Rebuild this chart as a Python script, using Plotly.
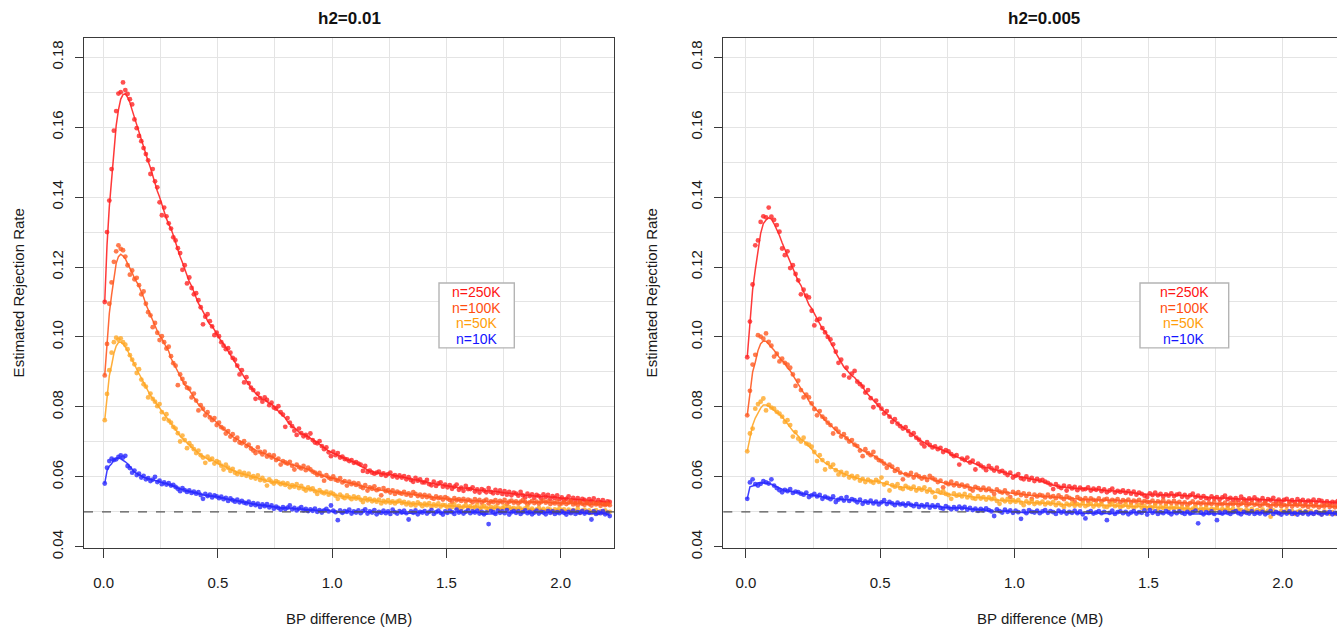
import numpy as np
import plotly.graph_objects as go

# Distance bins (MB): bin centres every 10 kb
BIN_START = 0.005
BIN_WIDTH = 0.01

SERIES = ["n=250K", "n=100K", "n=50K", "n=10K"]
COLORS = {"n=250K": "#FF2424", "n=100K": "#FF5A22", "n=50K": "#FFA726", "n=10K": "#2A2AFF"}
TEXT_COLORS = {"n=250K": "#FF1414", "n=100K": "#FF4E12", "n=50K": "#FF9E0A", "n=10K": "#1414FF"}

# ---- h2 = 0.01 -------------------------------------------------------------
h01_250k = [
    0.110, 0.130, 0.139, 0.148, 0.159, 0.1646, 0.1696, 0.170, 0.1728, 0.1706,
    0.1695, 0.168, 0.1665, 0.1622, 0.1597, 0.1575, 0.156, 0.154, 0.1523, 0.1505,
    0.1466, 0.148, 0.1445, 0.1428, 0.1385, 0.1348, 0.137, 0.1345, 0.1325, 0.131,
    0.1285, 0.1276, 0.1254, 0.124, 0.1192, 0.1205, 0.1153, 0.117, 0.114, 0.1122,
    0.1125, 0.1105, 0.1085, 0.1036, 0.1058, 0.1065, 0.1045, 0.103, 0.1005, 0.1012,
    0.1002, 0.0985, 0.0975, 0.0965, 0.0968, 0.0955, 0.094, 0.0935, 0.0918, 0.0893,
    0.0905, 0.087, 0.0885, 0.0868, 0.0855, 0.0848, 0.0823, 0.0838, 0.0825, 0.0815,
    0.0827, 0.082, 0.0805, 0.0812, 0.0798, 0.0795, 0.0802, 0.0785, 0.0778, 0.0743,
    0.0768, 0.0755, 0.0745, 0.0732, 0.072, 0.0738, 0.0725, 0.0716, 0.072, 0.0712,
    0.0724, 0.0705, 0.0698, 0.0696, 0.0702, 0.0688, 0.0679, 0.0684, 0.067, 0.0659,
    0.0672, 0.0662, 0.0668, 0.0655, 0.0658, 0.0651, 0.065, 0.0645, 0.0648, 0.064,
    0.0642, 0.0638, 0.0635, 0.0617, 0.0631, 0.0614, 0.0618, 0.0612, 0.0609, 0.0612,
    0.0615, 0.0606, 0.061, 0.0603, 0.0608, 0.0612, 0.0601, 0.0605, 0.0598, 0.0604,
    0.0598, 0.0602, 0.0593, 0.0599, 0.0591, 0.0586, 0.0597, 0.0589, 0.0593, 0.0584,
    0.0584, 0.0591, 0.0579, 0.0576, 0.0586, 0.0574, 0.0581, 0.0584, 0.0572, 0.0578,
    0.057, 0.0576, 0.0566, 0.0572, 0.0578, 0.0563, 0.0569, 0.056, 0.0574, 0.0565,
    0.0565, 0.057, 0.0558, 0.0564, 0.0555, 0.0565, 0.0561, 0.0556, 0.0568, 0.0557,
    0.0553, 0.0563, 0.0554, 0.0561, 0.0551, 0.0559, 0.0549, 0.0557, 0.0547, 0.0555,
    0.0552, 0.0546, 0.0557, 0.0547, 0.0541, 0.0552, 0.0545, 0.055, 0.054, 0.0548,
    0.0545, 0.0539, 0.055, 0.0542, 0.0548, 0.0537, 0.0545, 0.0539, 0.0547, 0.0536,
    0.0541, 0.0534, 0.0537, 0.0544, 0.0532, 0.054, 0.0531, 0.0539, 0.0529, 0.0537,
    0.0534, 0.0527, 0.0536, 0.053, 0.0538, 0.0525, 0.0533, 0.0527, 0.0533, 0.0523, 0.053, 0.0528,
]
h01_100k = [
    0.089, 0.098, 0.1095, 0.1156, 0.1215, 0.1245, 0.1262, 0.1252, 0.1248, 0.123,
    0.1205, 0.1178, 0.119, 0.1165, 0.1169, 0.1148, 0.1122, 0.113, 0.1095, 0.1071,
    0.1062, 0.1028, 0.104, 0.1012, 0.0991, 0.1002, 0.0985, 0.0967, 0.0972, 0.0945,
    0.0925, 0.0918, 0.0862, 0.0893, 0.088, 0.0868, 0.0855, 0.0852, 0.0827, 0.0838,
    0.0818, 0.079, 0.0805, 0.0795, 0.0776, 0.0785, 0.077, 0.0762, 0.0768, 0.0748,
    0.0755, 0.0742, 0.0738, 0.0724, 0.0731, 0.0715, 0.0722, 0.0705, 0.0712, 0.0698,
    0.0696, 0.0702, 0.0688, 0.0692, 0.0681, 0.0675, 0.0668, 0.0684, 0.0671, 0.0664,
    0.0672, 0.0658, 0.0663, 0.0655, 0.0661, 0.0648, 0.0652, 0.0635, 0.0645, 0.0641,
    0.0638, 0.0643, 0.0632, 0.0621, 0.0635, 0.0628, 0.0624, 0.0631, 0.0619, 0.0626,
    0.0621, 0.0615, 0.0612, 0.0606, 0.0611, 0.0603, 0.0589, 0.0605, 0.0598, 0.0594,
    0.0601, 0.0592, 0.0589, 0.0596, 0.0584, 0.0588, 0.0575, 0.0586, 0.0579, 0.0583,
    0.0577, 0.0581, 0.0572, 0.0568, 0.0576, 0.0561, 0.057, 0.0566, 0.0573, 0.0562,
    0.0565, 0.0547, 0.0568, 0.0559, 0.0562, 0.0555, 0.0561, 0.0551, 0.0558, 0.0554,
    0.0552, 0.0557, 0.0549, 0.0553, 0.0546, 0.0556, 0.0551, 0.0545, 0.0549, 0.0543,
    0.0548, 0.0542, 0.0546, 0.054, 0.0537, 0.0544, 0.0539, 0.0541, 0.0535, 0.0542,
    0.0538, 0.0534, 0.0528, 0.0539, 0.0533, 0.0536, 0.0531, 0.0537, 0.053, 0.0535,
    0.0532, 0.0527, 0.0536, 0.0529, 0.0534, 0.0526, 0.0531, 0.0535, 0.0524, 0.053,
    0.0528, 0.0533, 0.0525, 0.0531, 0.0527, 0.0534, 0.0522, 0.0529, 0.0532, 0.0526,
    0.053, 0.0524, 0.0529, 0.0533, 0.0528, 0.0521, 0.0527, 0.0531, 0.0525, 0.0529,
    0.0523, 0.0528, 0.0532, 0.0526, 0.053, 0.0522, 0.0527, 0.0524, 0.0529, 0.0521,
    0.0524, 0.0528, 0.0522, 0.0526, 0.053, 0.0521, 0.0525, 0.0519, 0.0527, 0.0523,
    0.052, 0.0526, 0.0522, 0.0518, 0.0525, 0.0521, 0.0524, 0.0517, 0.0522, 0.0519, 0.0523, 0.0519,
]
h01_50k = [
    0.0762, 0.0837, 0.0905, 0.0955, 0.0985, 0.0998, 0.0992, 0.0996, 0.0985, 0.0978,
    0.0965, 0.0948, 0.0935, 0.0922, 0.0897, 0.0908, 0.0878, 0.0865, 0.0858, 0.0827,
    0.0838, 0.0823, 0.0815, 0.0802, 0.0808, 0.0785, 0.0766, 0.0779, 0.0761, 0.0755,
    0.0743, 0.0738, 0.0725, 0.0701, 0.0718, 0.0705, 0.0682, 0.0696, 0.0688, 0.0679,
    0.0668, 0.0675, 0.0662, 0.0655, 0.064, 0.0658, 0.0649, 0.0652, 0.0638, 0.0645,
    0.0641, 0.0632, 0.0621, 0.0635, 0.0626, 0.0617, 0.0623, 0.0612, 0.0608, 0.0615,
    0.0606, 0.0611, 0.0603, 0.0609, 0.0598, 0.0602, 0.0595, 0.0604, 0.0591, 0.0597,
    0.0589, 0.0575, 0.0593, 0.0586, 0.0581, 0.0588, 0.0584, 0.0579, 0.0583, 0.0577,
    0.0581, 0.057, 0.0576, 0.0572, 0.0579, 0.0568, 0.0574, 0.0566, 0.0561, 0.057,
    0.0564, 0.0567, 0.0559, 0.0551, 0.0562, 0.0556, 0.0553, 0.0558, 0.0549, 0.0555,
    0.0551, 0.0546, 0.0537, 0.0549, 0.0543, 0.0539, 0.0547, 0.0541, 0.0536, 0.0544,
    0.0538, 0.0542, 0.0535, 0.0528, 0.0539, 0.0533, 0.0537, 0.053, 0.0534, 0.0529,
    0.0535, 0.0524, 0.0531, 0.0527, 0.0533, 0.0526, 0.053, 0.0524, 0.0529, 0.0532,
    0.0525, 0.0528, 0.0521, 0.0526, 0.0519, 0.0524, 0.0518, 0.0527, 0.0522, 0.0516,
    0.0523, 0.0519, 0.0525, 0.0514, 0.0521, 0.0517, 0.0524, 0.0515, 0.052, 0.0518,
    0.0513, 0.0519, 0.0514, 0.0521, 0.0511, 0.0517, 0.0509, 0.0515, 0.0519, 0.0512,
    0.0516, 0.051, 0.0514, 0.0519, 0.0508, 0.0513, 0.0517, 0.0511, 0.0506, 0.0514,
    0.0509, 0.0515, 0.0512, 0.0505, 0.0511, 0.0516, 0.0507, 0.0513, 0.0508, 0.0511,
    0.0506, 0.0512, 0.0509, 0.0503, 0.051, 0.0514, 0.0505, 0.0509, 0.0501, 0.0507,
    0.0511, 0.0504, 0.0508, 0.0502, 0.0509, 0.0506, 0.0499, 0.0507, 0.0503, 0.051,
    0.0504, 0.0507, 0.05, 0.0506, 0.0498, 0.0505, 0.0502, 0.0508, 0.0497, 0.0503,
    0.0506, 0.05, 0.0504, 0.0497, 0.0502, 0.0505, 0.0496, 0.0501, 0.0498, 0.0504, 0.0499, 0.050,
]
h01_10k = [
    0.0581, 0.0626, 0.0645, 0.0652, 0.0648, 0.065, 0.0657, 0.0661, 0.0655, 0.066,
    0.0631, 0.0625, 0.0612, 0.0618, 0.0605, 0.0609, 0.0598, 0.0603, 0.0593, 0.0596,
    0.0588, 0.0592, 0.06, 0.0585, 0.0589, 0.0579, 0.0584, 0.0578, 0.0582, 0.0575,
    0.0577, 0.0571, 0.0566, 0.0559, 0.0568, 0.0562, 0.0557, 0.0561, 0.0554, 0.0558,
    0.0552, 0.0556, 0.0548, 0.0537, 0.0551, 0.0545, 0.0549, 0.0541, 0.0547, 0.0544,
    0.0539, 0.0543, 0.0536, 0.054, 0.0531, 0.0538, 0.0533, 0.0529, 0.0535, 0.0527,
    0.0531, 0.0526, 0.0524, 0.0529, 0.052, 0.0525, 0.0519, 0.0523, 0.0514, 0.0521,
    0.0516, 0.0522, 0.0513, 0.0518, 0.0509, 0.0515, 0.0511, 0.0506, 0.0513, 0.0508,
    0.0512, 0.0518, 0.0507, 0.0511, 0.0504, 0.0509, 0.0513, 0.0504, 0.0508, 0.0502,
    0.0507, 0.0503, 0.0509, 0.05, 0.0505, 0.0498, 0.0504, 0.0508, 0.0501, 0.0518,
    0.0503, 0.0499, 0.0476, 0.0504, 0.0497, 0.0502, 0.05, 0.0506, 0.0495, 0.0501,
    0.0498, 0.0504, 0.0496, 0.0502, 0.0507, 0.0495, 0.0501, 0.0498, 0.0505, 0.0493,
    0.05, 0.0497, 0.0503, 0.0496, 0.0501, 0.0494, 0.0506, 0.0499, 0.0495, 0.0502,
    0.0498, 0.0503, 0.0496, 0.0478, 0.0501, 0.0497, 0.0504, 0.0493, 0.05, 0.0498,
    0.0502, 0.0495, 0.05, 0.0505, 0.0494, 0.0499, 0.0503, 0.0497, 0.0492, 0.0501,
    0.0497, 0.0503, 0.0499, 0.0494, 0.0506, 0.0498, 0.0501, 0.0495, 0.05, 0.0504,
    0.0496, 0.0501, 0.0498, 0.0503, 0.0495, 0.05, 0.0493, 0.0498, 0.0465, 0.0502,
    0.0499, 0.0494, 0.0503, 0.0497, 0.0501, 0.0496, 0.0505, 0.0492, 0.0499, 0.0502,
    0.0497, 0.0501, 0.0494, 0.0499, 0.0504, 0.0496, 0.05, 0.0493, 0.0498, 0.0503,
    0.0495, 0.05, 0.0498, 0.0493, 0.0502, 0.0497, 0.0501, 0.0494, 0.0499, 0.0496,
    0.0501, 0.0497, 0.0492, 0.05, 0.0496, 0.0503, 0.0494, 0.0499, 0.0497, 0.0502,
    0.0495, 0.05, 0.0497, 0.0478, 0.0501, 0.0494, 0.0498, 0.0496, 0.0502, 0.0493, 0.0497, 0.0488,
]

# ---- h2 = 0.005 ------------------------------------------------------------
h005_250k = [
    0.0942, 0.1044, 0.1150, 0.1262, 0.1276, 0.1329, 0.1345, 0.1342, 0.1370, 0.1344,
    0.1335, 0.1320, 0.1301, 0.1253, 0.1234, 0.1245, 0.1197, 0.1205, 0.1180, 0.1162,
    0.1122, 0.1135, 0.1118, 0.1113, 0.1075, 0.1033, 0.1048, 0.1052, 0.1025, 0.1013,
    0.1000, 0.0993, 0.0979, 0.0958, 0.0926, 0.0935, 0.0890, 0.0912, 0.0884, 0.0895,
    0.0903, 0.0872, 0.0865, 0.0858, 0.0841, 0.0848, 0.0825, 0.0799, 0.0818, 0.0805,
    0.0795, 0.0781, 0.0788, 0.0772, 0.0757, 0.0765, 0.0752, 0.0745, 0.0738, 0.0742,
    0.0731, 0.072, 0.0725, 0.0712, 0.0706, 0.0695, 0.0687, 0.0699, 0.0691, 0.0684,
    0.0687, 0.0679, 0.0683, 0.0671, 0.0676, 0.0673, 0.0665, 0.0659, 0.0662, 0.0635,
    0.0652, 0.0648, 0.0655, 0.0641, 0.0646, 0.0621, 0.0638, 0.0632, 0.0627, 0.0619,
    0.0631, 0.0624, 0.0618, 0.0626, 0.0615, 0.0617, 0.0611, 0.0605, 0.0612, 0.0598,
    0.0603, 0.0608, 0.0596, 0.0593, 0.0601, 0.0592, 0.0597, 0.0588, 0.0594, 0.0589,
    0.0591, 0.0586, 0.0583, 0.0578, 0.0565, 0.0579, 0.0572, 0.0568, 0.0575, 0.0561,
    0.0573, 0.0567, 0.0571, 0.0562, 0.0569, 0.0564, 0.0565, 0.057, 0.0561, 0.0566,
    0.0563, 0.0568, 0.0559, 0.0564, 0.0556, 0.0561, 0.0566, 0.0555, 0.056, 0.0557,
    0.0561, 0.0554, 0.0559, 0.0552, 0.0558, 0.0549, 0.0555, 0.0551, 0.0546, 0.0542,
    0.0553, 0.0548, 0.0555, 0.0547, 0.0551, 0.0544, 0.055, 0.0546, 0.0553, 0.0545,
    0.0549, 0.0551, 0.0543, 0.0548, 0.0541, 0.0547, 0.0552, 0.0542, 0.0546, 0.054,
    0.0545, 0.0539, 0.0537, 0.0544, 0.0538, 0.0542, 0.0535, 0.0541, 0.0546, 0.0536,
    0.054, 0.0534, 0.0539, 0.0533, 0.0543, 0.0536, 0.0531, 0.0538, 0.0534, 0.0541,
    0.0535, 0.0532, 0.0539, 0.053, 0.0536, 0.0533, 0.054, 0.0529, 0.0535, 0.0528,
    0.0534, 0.0537, 0.0529, 0.0533, 0.0527, 0.0536, 0.053, 0.0534, 0.0526, 0.0532,
    0.0529, 0.0535, 0.0527, 0.0533, 0.0531, 0.0525, 0.053, 0.0524, 0.0528, 0.0526, 0.0531, 0.0525,
]
h005_100k = [
    0.0776, 0.0846, 0.0921, 0.0949, 0.1005, 0.1001, 0.0995, 0.101, 0.0986, 0.0975,
    0.0944, 0.0952, 0.093, 0.0938, 0.0926, 0.0921, 0.0912, 0.0893, 0.086, 0.0875,
    0.0848, 0.0827, 0.0835, 0.0827, 0.081, 0.0794, 0.0776, 0.0788, 0.0772, 0.0766,
    0.0755, 0.0748, 0.0724, 0.0738, 0.0729, 0.0715, 0.0722, 0.071, 0.0701, 0.0705,
    0.0692, 0.0688, 0.0675, 0.0659, 0.0679, 0.0668, 0.0662, 0.0671, 0.0655, 0.0648,
    0.0645, 0.0638, 0.0626, 0.0635, 0.0629, 0.0617, 0.0622, 0.0612, 0.0593, 0.0608,
    0.0604, 0.0611, 0.0598, 0.0606, 0.0601, 0.0595, 0.0599, 0.0591, 0.0603, 0.0596,
    0.0592, 0.0585, 0.0589, 0.057, 0.0583, 0.0579, 0.0586, 0.0576, 0.0581, 0.0574,
    0.0578, 0.0572, 0.0575, 0.0566, 0.0561, 0.0571, 0.0568, 0.0563, 0.0569, 0.0562,
    0.0566, 0.056, 0.0551, 0.0564, 0.0558, 0.0555, 0.0561, 0.0553, 0.0542, 0.0557,
    0.0552, 0.0556, 0.0548, 0.0553, 0.0545, 0.0551, 0.0537, 0.0549, 0.0544, 0.0548,
    0.0546, 0.0541, 0.0549, 0.0542, 0.0545, 0.0539, 0.0547, 0.0541, 0.0536, 0.0544,
    0.054, 0.0536, 0.0528, 0.0542, 0.0537, 0.0533, 0.0539, 0.0531, 0.0538, 0.0534,
    0.0532, 0.0538, 0.053, 0.0535, 0.0537, 0.0529, 0.0534, 0.0531, 0.0536, 0.0527,
    0.0533, 0.053, 0.0535, 0.0526, 0.0532, 0.0529, 0.0534, 0.0525, 0.0531, 0.0528,
    0.0527, 0.0532, 0.0524, 0.053, 0.0526, 0.0533, 0.0523, 0.0529, 0.0525, 0.0531,
    0.0524, 0.0528, 0.0522, 0.0527, 0.0519, 0.0525, 0.053, 0.0521, 0.0526, 0.0523,
    0.0527, 0.052, 0.0525, 0.0522, 0.0528, 0.0519, 0.0524, 0.0521, 0.0526, 0.0518,
    0.0524, 0.0521, 0.0526, 0.0519, 0.0523, 0.0527, 0.0518, 0.0522, 0.0525, 0.052,
    0.0523, 0.0517, 0.0521, 0.0525, 0.0519, 0.0514, 0.0522, 0.0518, 0.0524, 0.0516,
    0.052, 0.0517, 0.0523, 0.0515, 0.0521, 0.0518, 0.0522, 0.0516, 0.0519, 0.0514,
    0.0521, 0.0516, 0.0519, 0.0513, 0.0518, 0.0515, 0.052, 0.0514, 0.0517, 0.0513, 0.0516, 0.0514,
]
h005_50k = [
    0.0673, 0.0724, 0.0738, 0.0795, 0.0808, 0.0815, 0.0824, 0.079, 0.0806, 0.0798,
    0.0795, 0.0786, 0.0781, 0.0772, 0.0757, 0.0762, 0.0748, 0.0715, 0.0728, 0.0709,
    0.0701, 0.0712, 0.0695, 0.0692, 0.0686, 0.0671, 0.0645, 0.0662, 0.0648, 0.0621,
    0.0639, 0.0628, 0.0635, 0.0619, 0.0607, 0.0614, 0.0605, 0.0611, 0.0598, 0.0603,
    0.0596, 0.0601, 0.0589, 0.0594, 0.0585, 0.0592, 0.0587, 0.0583, 0.0591, 0.0586,
    0.0598, 0.0578, 0.0583, 0.0561, 0.0576, 0.0572, 0.0579, 0.0568, 0.0565, 0.0574,
    0.0569, 0.0566, 0.0572, 0.0561, 0.0567, 0.0563, 0.057, 0.0558, 0.0564, 0.0556,
    0.0542, 0.0561, 0.0555, 0.0559, 0.0551, 0.0548, 0.0537, 0.0553, 0.0546, 0.0549,
    0.0544, 0.0551, 0.0541, 0.0547, 0.0539, 0.0537, 0.0545, 0.0538, 0.0542, 0.0535,
    0.0541, 0.0536, 0.0539, 0.0531, 0.0523, 0.0535, 0.053, 0.0537, 0.0528, 0.0533,
    0.0529, 0.0534, 0.0526, 0.0519, 0.053, 0.0525, 0.0531, 0.0522, 0.0527, 0.0524,
    0.0529, 0.0521, 0.0526, 0.0523, 0.0528, 0.0519, 0.0525, 0.052, 0.0514, 0.0523,
    0.0519, 0.0524, 0.0517, 0.0522, 0.0518, 0.0525, 0.0516, 0.052, 0.0523, 0.0515,
    0.0521, 0.0518, 0.0522, 0.0515, 0.0514, 0.0519, 0.0523, 0.0516, 0.052, 0.0513,
    0.0517, 0.0521, 0.0514, 0.0518, 0.0511, 0.0516, 0.052, 0.0512, 0.0517, 0.051,
    0.0515, 0.0512, 0.0518, 0.0509, 0.0514, 0.0511, 0.0516, 0.0508, 0.0513, 0.051,
    0.0514, 0.0508, 0.0512, 0.0506, 0.0511, 0.0505, 0.0509, 0.0513, 0.0504, 0.051,
    0.0507, 0.0512, 0.0503, 0.0509, 0.0506, 0.0511, 0.0502, 0.0508, 0.0505, 0.051,
    0.0504, 0.0509, 0.0501, 0.0507, 0.0505, 0.0499, 0.0506, 0.0502, 0.0508, 0.05,
    0.0505, 0.0501, 0.0507, 0.0498, 0.0503, 0.0486, 0.0504, 0.05, 0.0496, 0.0503,
    0.0499, 0.0505, 0.0497, 0.0502, 0.0494, 0.05, 0.0503, 0.0496, 0.0501, 0.0498,
    0.0502, 0.0495, 0.05, 0.0497, 0.0493, 0.0501, 0.0498, 0.0495, 0.0499, 0.0494, 0.0497, 0.0496,
]
h005_10k = [
    0.0537, 0.0584, 0.0593, 0.0579, 0.0575, 0.058, 0.0588, 0.0584, 0.0581, 0.0593,
    0.0575, 0.0568, 0.0562, 0.0556, 0.0563, 0.0559, 0.0565, 0.0554, 0.0558, 0.0556,
    0.0552, 0.0549, 0.0555, 0.0542, 0.0547, 0.0551, 0.0544, 0.0548, 0.0537, 0.0543,
    0.054, 0.0536, 0.0544, 0.0528, 0.0535, 0.0539, 0.0532, 0.0542, 0.0531, 0.0536,
    0.0533, 0.0527, 0.0535, 0.0523, 0.053, 0.0526, 0.0532, 0.0524, 0.0529, 0.0521,
    0.0527, 0.0533, 0.0522, 0.0528, 0.0524, 0.0519, 0.0526, 0.0521, 0.0523, 0.0518,
    0.0524, 0.052, 0.0516, 0.0522, 0.0514, 0.0519, 0.0515, 0.0521, 0.0512, 0.0518,
    0.0514, 0.0519, 0.0511, 0.0509, 0.0516, 0.0512, 0.0507, 0.0513, 0.0508, 0.0515,
    0.051, 0.0514, 0.0506, 0.0511, 0.0505, 0.0509, 0.0503, 0.0508, 0.0504, 0.051,
    0.0505, 0.0501, 0.0488, 0.0507, 0.0502, 0.0498, 0.0506, 0.05, 0.0504, 0.0497,
    0.0503, 0.0499, 0.048, 0.0502, 0.0496, 0.0505, 0.05, 0.0498, 0.0503, 0.0496,
    0.0501, 0.0505, 0.0497, 0.0502, 0.0499, 0.0494, 0.0503, 0.0498, 0.0501, 0.0495,
    0.05, 0.0497, 0.0503, 0.0496, 0.0501, 0.0493, 0.0481, 0.0499, 0.0502, 0.0495,
    0.0498, 0.0502, 0.0496, 0.05, 0.0476, 0.0497, 0.0503, 0.0494, 0.0499, 0.0501,
    0.0496, 0.05, 0.0493, 0.0498, 0.0502, 0.0495, 0.0499, 0.0497, 0.0504, 0.0492,
    0.0505, 0.0497, 0.0501, 0.0494, 0.0499, 0.0496, 0.0502, 0.0498, 0.0493, 0.05,
    0.0496, 0.0501, 0.0497, 0.0494, 0.05, 0.0495, 0.0499, 0.0503, 0.0467, 0.0498,
    0.0493, 0.0499, 0.0496, 0.0501, 0.0494, 0.0476, 0.0498, 0.0495, 0.05, 0.0497,
    0.0494, 0.0499, 0.0502, 0.0496, 0.0493, 0.05, 0.0497, 0.0495, 0.0501, 0.0494,
    0.0498, 0.0495, 0.05, 0.0493, 0.0497, 0.0502, 0.0494, 0.0499, 0.0496, 0.0492,
    0.0499, 0.0495, 0.0501, 0.0494, 0.0497, 0.0492, 0.0498, 0.0495, 0.05, 0.0493,
    0.0497, 0.0494, 0.0499, 0.0496, 0.0492, 0.0498, 0.0495, 0.05, 0.0493, 0.0497, 0.0494, 0.0496,
]

PANELS = [
    {"title": "h2=0.01", "data": {"n=250K": h01_250k, "n=100K": h01_100k, "n=50K": h01_50k, "n=10K": h01_10k}},
    {"title": "h2=0.005", "data": {"n=250K": h005_250k, "n=100K": h005_100k, "n=50K": h005_50k, "n=10K": h005_10k}},
]

NULL_RATE = 0.05
FONT = "Liberation Sans, Arial, Helvetica, sans-serif"
W, H = 1337, 638


def bins(n):
    return np.round(BIN_START + BIN_WIDTH * np.arange(n), 4)


def running_mean(v, half=3):
    """Centred moving average whose window shrinks near the ends."""
    v = np.asarray(v, dtype=float)
    n = len(v)
    out = np.empty(n)
    for i in range(n):
        h = min(half, i, n - 1 - i)
        out[i] = v[i - h:i + h + 1].mean()
    return out


def px(x):
    return x / W


def py(y):
    return 1 - y / H


fig = go.Figure()
axis_names = [("x", "y"), ("x2", "y2")]
for (xa, ya), panel in zip(axis_names, PANELS):
    for name in SERIES:
        vals = panel["data"][name]
        xs = bins(len(vals))
        fig.add_trace(go.Scatter(
            x=xs, y=vals, mode="markers", xaxis=xa, yaxis=ya, showlegend=False,
            marker=dict(size=4.8, color=COLORS[name], opacity=0.8, line=dict(width=0)),
            hoverinfo="skip"))
        fig.add_trace(go.Scatter(
            x=xs, y=running_mean(vals), mode="lines", xaxis=xa, yaxis=ya, showlegend=False,
            line=dict(color=COLORS[name], width=1.5), opacity=0.9, hoverinfo="skip"))

# Panel geometry (pixels)
Y_TOP, Y_BOT = 38.3, 558.0
Y_RANGE = [0.18 - (Y_BOT - 58.3) / 3564.0, 0.18 + (58.3 - Y_TOP) / 3564.0]
LEFT_BOX = (84.0, 614.0)
RIGHT_BOX = (723.3, 1337.0)
LEFT_XR = [(LEFT_BOX[0] - 103.6) / 228.5, (LEFT_BOX[1] - 103.6) / 228.5]
RIGHT_XR = [(RIGHT_BOX[0] - 745.9) / 268.4, (RIGHT_BOX[1] - 745.9) / 268.4]

GRID = "#E4E4E4"
AXIS = "#3A3A3A"
tickfont = dict(family=FONT, size=15, color="#1A1A1A")


def xaxis(domain, rng, mirror):
    return dict(
        domain=domain, range=rng, showline=True, linecolor=AXIS, linewidth=1.3,
        mirror=mirror, ticks="outside", ticklen=9, tickwidth=1.2, tickcolor=AXIS,
        tickvals=[0.0, 0.5, 1.0, 1.5, 2.0], ticktext=["0.0", "0.5", "1.0", "1.5", "2.0"],
        tickfont=tickfont, ticklabelstandoff=12,
        showgrid=True, gridcolor=GRID, gridwidth=1.4, zeroline=False,
        minor=dict(tickvals=[0.25, 0.75, 1.25, 1.75, 2.25], showgrid=True,
                   gridcolor=GRID, gridwidth=1.4, ticks=""),
    )


def yaxis(anchor, mirror):
    return dict(
        domain=[py(Y_BOT), py(Y_TOP)], range=Y_RANGE, anchor=anchor,
        showline=True, linecolor=AXIS, linewidth=1.3, mirror=mirror,
        ticks="outside", ticklen=8, tickwidth=1.2, tickcolor=AXIS,
        tickvals=[0.04, 0.06, 0.08, 0.10, 0.12, 0.14, 0.16, 0.18],
        ticktext=["0.04", "0.06", "0.08", "0.10", "0.12", "0.14", "0.16", "0.18"],
        tickangle=-90, tickfont=tickfont, ticklabelstandoff=6,
        showgrid=True, gridcolor=GRID, gridwidth=1.4, zeroline=False,
        minor=dict(tickvals=[0.05, 0.07, 0.09, 0.11, 0.13, 0.15, 0.17], showgrid=True,
                   gridcolor=GRID, gridwidth=1.4, ticks=""),
    )


shapes = []
annotations = []
title_cx = [349.0, 1044.0]
ytitle_cx = [18.0, 651.0]
legend_boxes = [(439.0, 288.5, 514.3, 354.5), (1140.0, 288.5, 1228.7, 354.5)]
LEGEND_SIZE = 14
LEGEND_STEP = 15.8

for k, (xa, ya) in enumerate(axis_names):
    shapes.append(dict(type="line", xref=f"{xa} domain", yref=ya, x0=0, x1=1,
                       y0=NULL_RATE, y1=NULL_RATE, layer="above",
                       line=dict(color="#555555", width=1.2, dash="dash")))
    x0, y0, x1, y1 = legend_boxes[k]
    shapes.append(dict(type="rect", xref="paper", yref="paper",
                       x0=px(x0), x1=px(x1), y0=py(y1), y1=py(y0), layer="above",
                       fillcolor="white", line=dict(color="#B4B4B4", width=1.4)))
    cy = (y0 + y1) / 2
    for j, name in enumerate(SERIES):
        annotations.append(dict(
            text=name, x=px((x0 + x1) / 2), y=py(cy + (j - 1.5) * LEGEND_STEP),
            xref="paper", yref="paper", xanchor="center", yanchor="middle",
            showarrow=False, borderpad=0,
            font=dict(family=FONT, size=LEGEND_SIZE, color=TEXT_COLORS[name])))
    annotations.append(dict(
        text=f"<b>{PANELS[k]['title']}</b>", x=px(title_cx[k]), y=py(18.5),
        xref="paper", yref="paper", xanchor="center", yanchor="middle", showarrow=False,
        font=dict(family=FONT, size=17, color="#111111")))
    annotations.append(dict(
        text="Estimated Rejection Rate", x=px(ytitle_cx[k]), y=py(299.0),
        xref="paper", yref="paper", xanchor="center", yanchor="middle", textangle=-90,
        showarrow=False, font=dict(family=FONT, size=15, color="#1A1A1A")))
    annotations.append(dict(
        text="BP difference (MB)", x=px(title_cx[k] - (0 if k == 0 else 4)), y=py(630.0),
        xref="paper", yref="paper", xanchor="center", yanchor="middle", showarrow=False,
        font=dict(family=FONT, size=15, color="#1A1A1A")))

fig.update_layout(
    width=W, height=H, margin=dict(l=0, r=0, t=0, b=0),
    paper_bgcolor="white", plot_bgcolor="white", showlegend=False,
    xaxis=xaxis([px(LEFT_BOX[0]), px(LEFT_BOX[1])], LEFT_XR, True),
    yaxis=yaxis("x", True),
    xaxis2=xaxis([px(RIGHT_BOX[0]), 1.0], RIGHT_XR, True) | dict(anchor="y2"),
    yaxis2=yaxis("x2", False),
    shapes=shapes, annotations=annotations,
)

fig.write_html("out.html")
